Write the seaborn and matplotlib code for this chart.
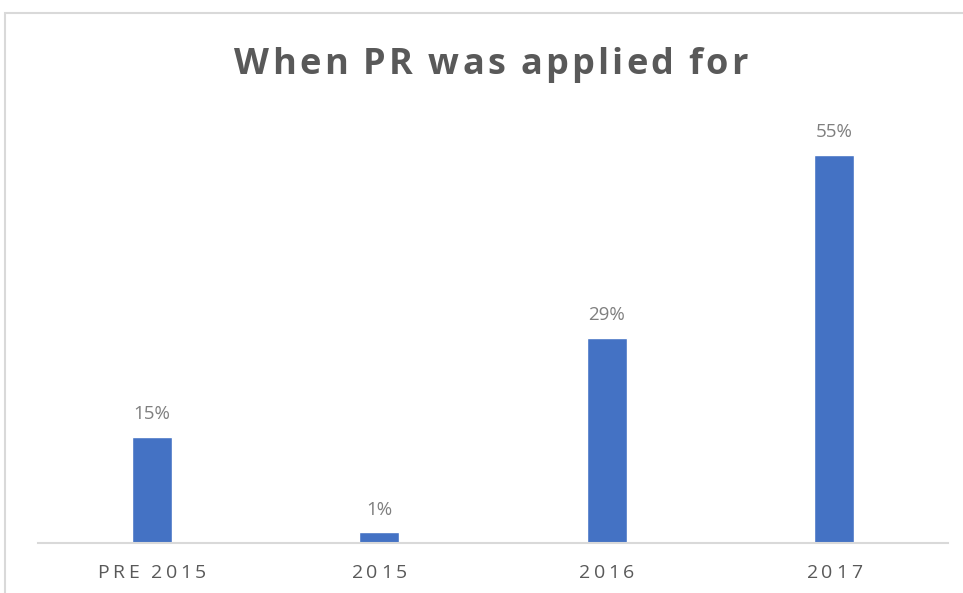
import matplotlib
matplotlib.use("Agg")
import matplotlib.pyplot as plt
import seaborn as sns
import pandas as pd
from matplotlib.patches import Rectangle

categories = ["PRE 2015", "2015", "2016", "2017"]
values = [15, 1.5, 29, 55]
labels = ["15%", "1%", "29%", "55%"]
title = "When PR was applied for"

W, H = 963, 593

sns.set_theme(style="white")
plt.rcParams['font.family'] = ['Open Sans', 'DejaVu Sans']

df = pd.DataFrame({"when": categories, "pct": values})

fig = plt.figure(figsize=(W / 100, H / 100), dpi=100)
ax = fig.add_axes([38 / W, 50 / H, 910 / W, 413 / H])

sns.barplot(data=df, x="when", y="pct", color="#4472C4", width=0.176,
            saturation=1, ax=ax)

ax.set_ylim(0, 58.5)
ax.set_xlim(-0.5, 3.5)
for i, (v, lab) in enumerate(zip(values, labels)):
    ax.annotate(lab, (i, v), xytext=(0, 10), textcoords="offset points",
                ha="center", va="bottom", fontsize=13.5, color="#7F7F7F")

for s in ["top", "right", "left"]:
    ax.spines[s].set_visible(False)
ax.spines["bottom"].set_color("#D9D9D9")
ax.spines["bottom"].set_linewidth(1.5)
ax.set_yticks([])
ax.set_xlabel("")
ax.set_ylabel("")
ax.set_xticklabels([])
ax.tick_params(axis="x", length=0)

renderer = fig.canvas.get_renderer()


def text_width(s, **kw):
    t = fig.text(0, 0, s, **kw)
    w = t.get_window_extent(renderer).width
    t.remove()
    return w


def tracked_text(x_px, y_px, s, track, **kw):
    # letter-spaced text, centred on x_px, baseline at y_px (pixels from top)
    ref = text_width("l", **kw)
    offs = [0 if i == 0 else text_width(s[:i] + "l", **kw) - ref + i * track
            for i in range(len(s))]
    total = text_width(s, **kw) + track * (len(s) - 1)
    x0 = x_px - total / 2
    for c, o in zip(s, offs):
        if c != " ":
            fig.text((x0 + o) / W, 1 - y_px / H, c, ha="left", va="baseline", **kw)


tracked_text(491, 74, title, 3.1, fontsize=26, fontweight="bold", color="#595959")

for i, cat in enumerate(categories):
    x_px = ax.transData.transform((i, 0))[0]
    tracked_text(x_px, 578, cat, 3.5, fontsize=14, color="#595959")

# chart frame
fig.patches.append(Rectangle((5 / W, -0.05), 1.05, 0.05 + (H - 13) / H,
                             transform=fig.transFigure, fill=False,
                             edgecolor="#D9D9D9", linewidth=1.5))

fig.savefig("out.png", dpi=100)
